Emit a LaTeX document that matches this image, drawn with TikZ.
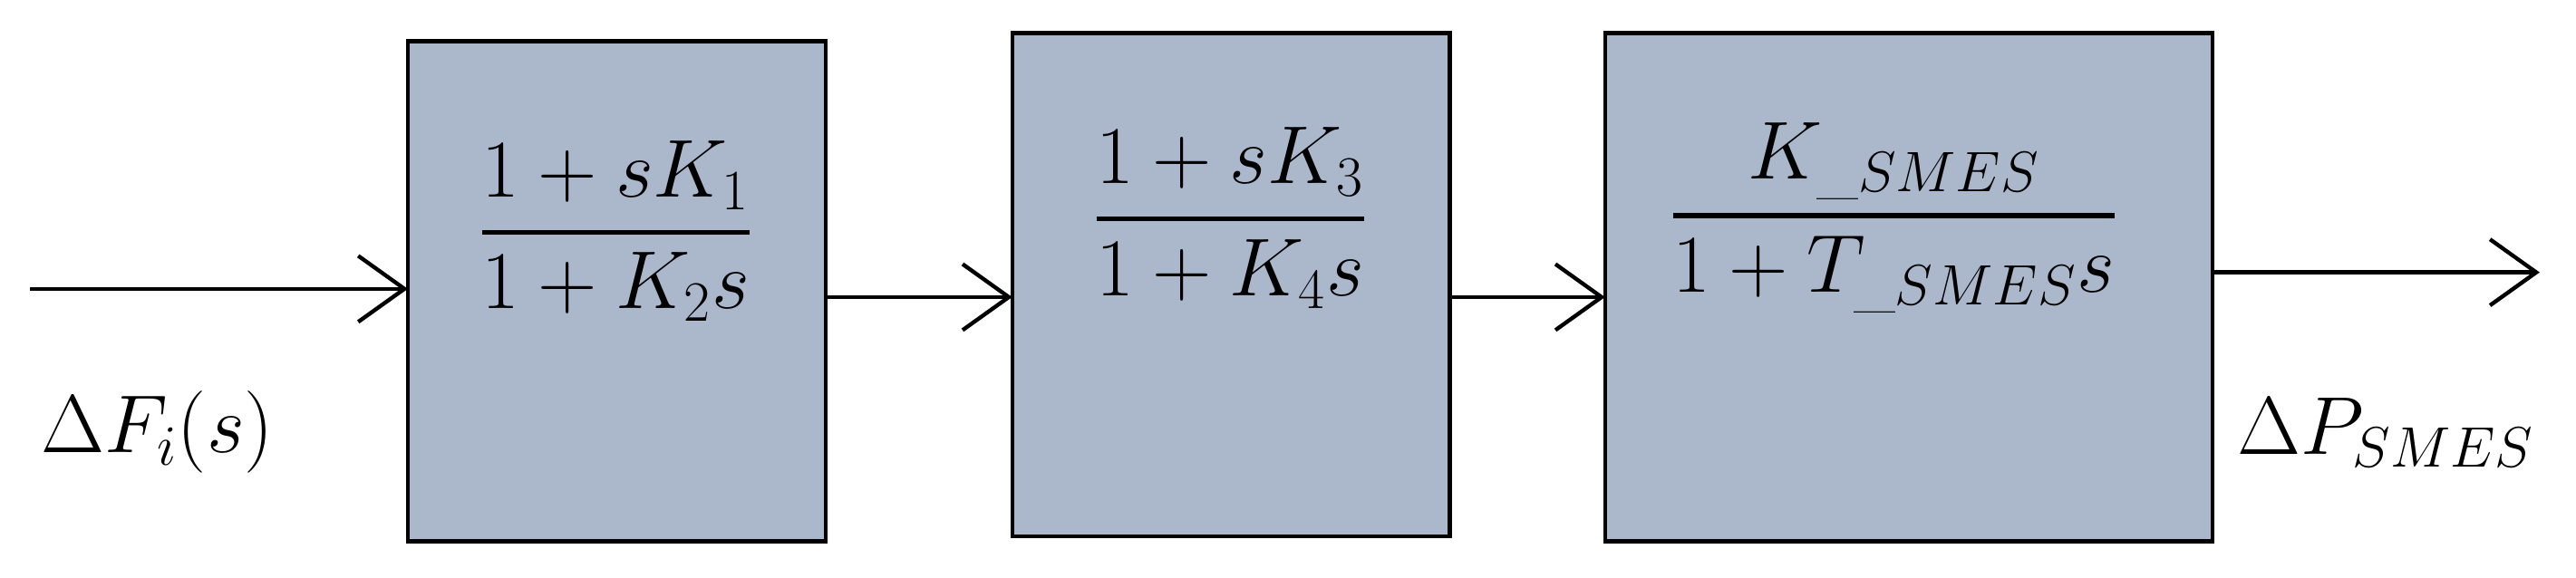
\documentclass[tikz,border=0pt]{standalone}
\usepackage{amsmath}
\usetikzlibrary{arrows.meta}
\definecolor{boxfill}{RGB}{171,184,203}
\newcommand{\tf}[2]{\genfrac{}{}{1.4pt}{0}{#1}{#2}}
\begin{document}
\begin{tikzpicture}[x=0.5pt,y=-0.5pt,
  blk/.style={draw,line width=1.2pt,fill=boxfill},
  arr/.style={line width=1.2pt,-{Straight Barb[length=14pt,width=20pt,line width=1.2pt]}},
  txt/.style={font=\fontsize{26}{30}\selectfont}]
\useasboundingbox (0,0) rectangle (1560,350);
\draw[blk] (247,25) rectangle (500,328);
\draw[blk] (613,20) rectangle (878,325);
\draw[blk] (972,20) rectangle (1340,328);
\node[txt] (f1) at (373,140) {$\tf{1+sK_1}{1+K_2s}$};
\node[txt] (f2) at (745,132) {$\tf{1+sK_3}{1+K_4s}$};
\node[txt] (f3) at (1147,132) {$\tf{K_{\_SMES}}{1+T_{\_SMES}s}$};
\coordinate (in) at (18,175);
\coordinate (b1l) at (247,175);
\coordinate (b1r) at (500,180);
\coordinate (b2l) at (613,180);
\coordinate (b2r) at (878,180);
\coordinate (b3l) at (972,180);
\coordinate (b3r) at (1340,165);
\coordinate (out) at (1538,165);
\draw[arr] (in) -- (b1l);
\draw[arr] (b1r) -- (b2l);
\draw[arr] (b2r) -- (b3l);
\draw[arr] (b3r) -- (out);
\node[txt,anchor=west] (lin) at (18,262) {$\Delta F_i(s)$};
\node[txt,anchor=east] (lout) at (1542,262) {$\Delta P_{SMES}$};
\end{tikzpicture}
\end{document}
